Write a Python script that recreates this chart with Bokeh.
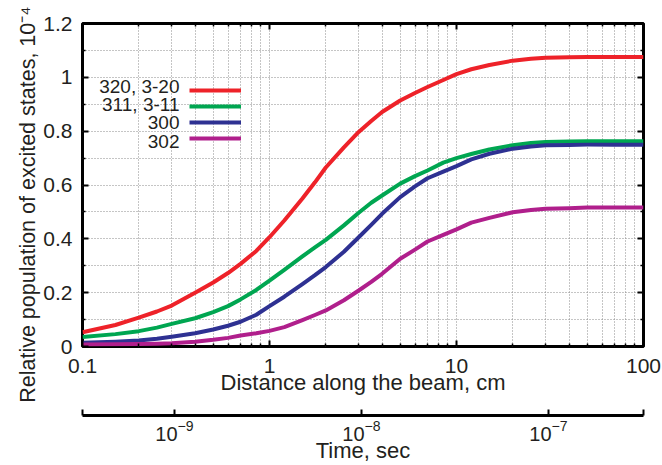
from bokeh.plotting import figure
from bokeh.models import (Range1d, LogAxis, LinearAxis, FixedTicker, LogScale, Legend,
                          LegendItem, Label, NumeralTickFormatter, CustomJSTickFormatter,
                          LogTickFormatter, Title)
from bokeh.embed import file_html
from bokeh.resources import INLINE

# ---- data ----
distance_cm = [0.1, 0.15, 0.2, 0.25, 0.3, 0.4, 0.5, 0.6, 0.7, 0.85, 1, 1.2, 1.5, 1.75, 2,
               2.5, 3, 3.5, 4, 5, 6, 7, 8.5, 10, 12, 15, 20, 25, 30, 40, 50, 70, 100]
pop_320 = [0.053, 0.08, 0.107, 0.13, 0.152, 0.2, 0.238, 0.273, 0.307, 0.355, 0.406, 0.468,
           0.55, 0.61, 0.665, 0.74, 0.797, 0.838, 0.871, 0.914, 0.942, 0.964, 0.99, 1.012,
           1.03, 1.046, 1.062, 1.069, 1.073, 1.075, 1.076, 1.076, 1.076]
pop_311 = [0.035, 0.046, 0.057, 0.07, 0.084, 0.105, 0.128, 0.15, 0.175, 0.21, 0.245, 0.285,
           0.335, 0.368, 0.396, 0.45, 0.497, 0.534, 0.561, 0.605, 0.633, 0.654, 0.683, 0.700,
           0.715, 0.732, 0.748, 0.756, 0.760, 0.762, 0.763, 0.763, 0.763]
pop_300 = [0.014, 0.018, 0.022, 0.029, 0.036, 0.049, 0.063, 0.077, 0.092, 0.118, 0.15, 0.185,
           0.232, 0.265, 0.295, 0.352, 0.406, 0.452, 0.493, 0.555, 0.595, 0.625, 0.65, 0.67,
           0.695, 0.716, 0.735, 0.743, 0.748, 0.749, 0.750, 0.750, 0.750]
pop_302 = [0.007, 0.008, 0.009, 0.010, 0.012, 0.018, 0.025, 0.032, 0.041, 0.049, 0.058, 0.072,
           0.098, 0.117, 0.134, 0.172, 0.208, 0.24, 0.27, 0.326, 0.36, 0.39, 0.415, 0.435,
           0.46, 0.478, 0.499, 0.507, 0.512, 0.514, 0.516, 0.516, 0.516]
series = [pop_320, pop_311, pop_300, pop_302]
series_labels = ["320, 3-20", "311, 3-11", "300", "302"]
series_colors = ["#ee2229", "#00a651", "#2e3192", "#b01f8c"]

x_major = [0.1, 1, 10, 100]
x_minor = [0.2, 0.3, 0.4, 0.5, 0.6, 0.7, 0.8, 0.9, 2, 3, 4, 5, 6, 7, 8, 9,
           20, 30, 40, 50, 60, 70, 80, 90]
y_major = [0, 0.2, 0.4, 0.6, 0.8, 1.0, 1.2]
y_minor = [0.1, 0.3, 0.5, 0.7, 0.9, 1.1]
beam_velocity = 3.1e8  # cm/s
time_major = [1e-9, 1e-8, 1e-7]

FONT = "Liberation Sans"
TXT = "#231f20"

x_start, x_end = 0.1, 100
t_start, t_end = x_start / beam_velocity, x_end / beam_velocity

p = figure(width=662, height=465, x_axis_type="log",
           x_range=Range1d(x_start, x_end), y_range=Range1d(0, 1.2),
           output_backend="svg", toolbar_location=None,
           min_border_left=82, min_border_right=19, min_border_top=23, min_border_bottom=0,
           outline_line_color="black", outline_line_width=3)
p.extra_x_ranges = {"time": Range1d(t_start, t_end)}
p.extra_x_scales = {"time": LogScale()}

xt = FixedTicker(ticks=x_major, minor_ticks=x_minor)
yt = FixedTicker(ticks=y_major, minor_ticks=y_minor)


def style_axis(ax):
    ax.axis_line_color = None
    ax.major_tick_in = 6
    ax.major_tick_out = 0
    ax.minor_tick_in = 3
    ax.minor_tick_out = 0
    ax.major_tick_line_width = 2
    ax.minor_tick_line_width = 1.5
    ax.major_tick_line_color = "black"
    ax.minor_tick_line_color = "black"
    ax.major_label_text_font = FONT
    ax.major_label_text_font_size = "21px"
    ax.major_label_text_color = TXT
    ax.axis_label_text_font = FONT
    ax.axis_label_text_font_size = "22px"
    ax.axis_label_text_font_style = "normal"
    ax.axis_label_text_color = TXT


# bottom distance axis
xa = p.xaxis[0]
xa.ticker = xt
xa.formatter = NumeralTickFormatter(format="0.[0]")
style_axis(xa)
xa.major_label_standoff = 12
xa.axis_label = "Distance along the beam, cm"
xa.axis_label_standoff = -6

# left axis
ya = p.yaxis[0]
ya.ticker = yt
ya.formatter = NumeralTickFormatter(format="0.[0]")
style_axis(ya)
ya.major_label_standoff = 10

# left title (a Title so it can sit below the centre, as in the original)
ytitle = Title(text="Relative population of excited states, 10\u207b\u2074",
               align="right", offset=-17, standoff=1, text_font=FONT,
               text_font_size="21.5px", text_font_style="normal", text_color=TXT)
p.add_layout(ytitle, "left")

blank = CustomJSTickFormatter(code="return ''")
top = LogAxis(ticker=xt, formatter=blank)
style_axis(top)
top.major_label_standoff = 0
p.add_layout(top, "above")
right = LinearAxis(ticker=yt, formatter=blank)
style_axis(right)
right.major_label_standoff = 0
p.add_layout(right, "right")

# spacer between the two bottom axes
spacer = LinearAxis(ticker=FixedTicker(ticks=[]), axis_line_color=None,
                    major_tick_line_color=None, minor_tick_line_color=None,
                    major_tick_out=0, minor_tick_out=0, major_tick_in=0, minor_tick_in=0,
                    major_label_standoff=0, axis_label=" ",
                    axis_label_text_font_size="10px", axis_label_standoff=4)
p.add_layout(spacer, "below")

# time axis
ta = LogAxis(x_range_name="time",
             ticker=FixedTicker(ticks=time_major, minor_ticks=[t_start * 1.002, t_end / 1.002]),
             formatter=LogTickFormatter())
style_axis(ta)
ta.axis_line_color = "black"
ta.axis_line_width = 3
ta.minor_tick_in = 6
ta.minor_tick_line_width = 2
ta.major_label_text_font_size = "20px"
ta.major_label_standoff = 4
ta.axis_label = "Time, sec"
ta.axis_label_standoff = -6
p.add_layout(ta, "below")

# grid
for g in (p.xgrid[0], p.ygrid[0]):
    g.grid_line_color = "#8a8a8a"
    g.grid_line_dash = "1 2"
    g.grid_line_width = 1
    g.minor_grid_line_color = "#8a8a8a"
    g.minor_grid_line_dash = "1 2"
    g.minor_grid_line_width = 1
p.xgrid[0].ticker = xt
p.ygrid[0].ticker = yt

renderers = []
for ys, c in zip(series, series_colors):
    r = p.line(distance_cm, ys, line_color=c, line_width=4, line_join="round")
    renderers.append(r)

legend = Legend(items=[LegendItem(label=" ", renderers=[r]) for r in renderers],
                location=(107, 200), glyph_width=52, glyph_height=16, label_height=16,
                label_width=0, label_standoff=0, spacing=0, padding=0, margin=0,
                label_text_font_size="2px", border_line_color=None,
                background_fill_alpha=0)
p.add_layout(legend)

row_y = [260.3, 242, 223.7, 205]
for lab, yy in zip(series_labels, row_y):
    p.add_layout(Label(x=97, y=yy, x_units="screen", y_units="screen", text=lab,
                       text_align="right", text_baseline="middle", text_font=FONT,
                       text_font_size="19px", text_color=TXT))

open("out.html", "w").write(file_html(p, INLINE))
